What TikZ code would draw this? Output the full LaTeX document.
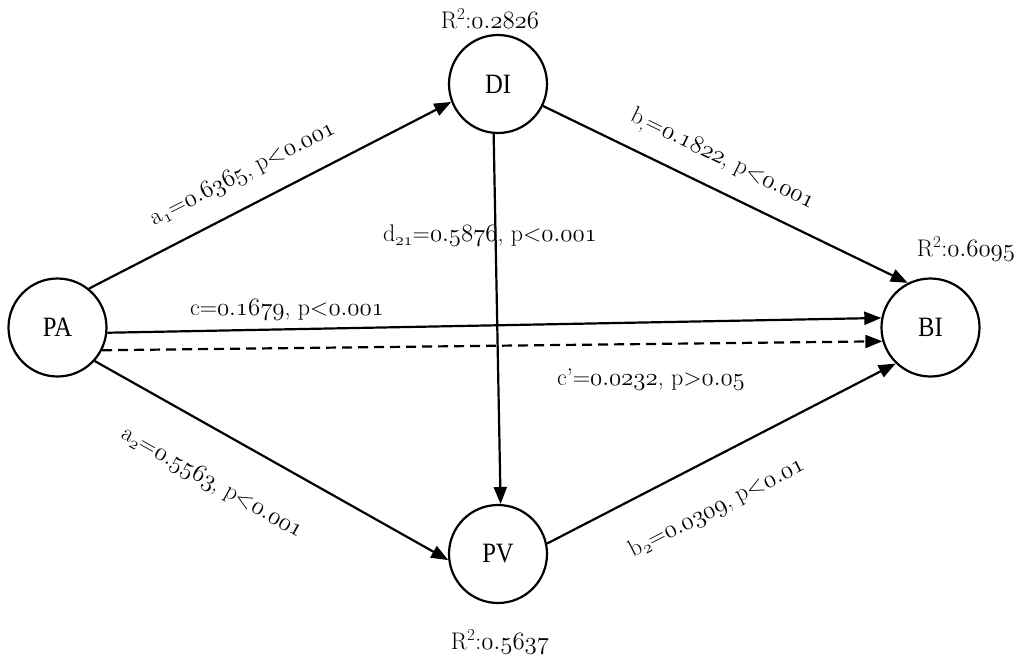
\documentclass[tikz,border=0pt]{standalone}
\usepackage{fontspec}
\newfontfamily\tnr{Liberation Serif}
\usetikzlibrary{arrows.meta}
\newcommand\osn[1]{\ensuremath{\mathnormal{#1}}}
\newcommand\vname[1]{\scalebox{0.88}[1]{#1}}
\begin{document}
\begin{tikzpicture}[x=1pt,y=-1pt,
  var/.style={circle,draw,line width=2.2pt,minimum size=98pt,inner sep=0pt,font=\tnr\fontsize{28}{32}\selectfont},
  lab/.style={font=\fontsize{24}{28}\selectfont,inner sep=0pt},
  conn/.style={line width=2.2pt,-{Triangle[length=17pt,width=13pt]}},
  dconn/.style={conn,dash pattern=on 10pt off 6pt}]
\useasboundingbox (0,0) rectangle (1034,662);
\node[var] (PA) at (57.5,327.5) {\vname{PA}};
\node[var] (DI) at (498,84) {\vname{DI}};
\node[var] (BI) at (930.5,327.5) {\vname{BI}};
\node[var] (PV) at (498,554) {\vname{PV}};
\node[lab] (rdi) at (490,19) {R\textsuperscript{2}:\osn{0.2826}};
\node[lab] (rbi) at (966,249) {R\textsuperscript{2}:\osn{0.6095}};
\node[lab] (rpv) at (500,642) {R\textsuperscript{2}:\osn{0.5637}};
\draw[conn] (PA.51) -- (DI.201);
\draw[conn] (DI.334) -- (BI.117);
\draw[conn] (DI.265) -- (PV.87);
\draw[conn] (PA.354) -- (BI.169);
\draw[dconn] (PA.333) -- (BI.196.6);
\draw[conn] (PA.318) -- (PV.187);
\draw[conn] (PV.12.4) -- (BI.226.5);
\node[lab,rotate=27] (la1) at (243,174) {a$_{\mathnormal{1}}$=\osn{0.6365}, p<\osn{0.001}};
\node[lab,rotate=-25.9] (lb1) at (722,160) {b$_{,}$=\osn{0.1822}, p<\osn{0.001}};
\node[lab] (ld) at (490,236) {d$_{\mathnormal{21}}$=\osn{0.5876}, p<\osn{0.001}};
\node[lab] (lc) at (287,310) {c=\osn{0.1679}, p<\osn{0.001}};
\node[lab] (lcp) at (651,380) {c’=\osn{0.0232}, p>\osn{0.05}};
\node[lab,rotate=-29.4] (la2) at (212,483) {a$_{\mathnormal{2}}$=\osn{0.5563}, p<\osn{0.001}};
\node[lab,rotate=27] (lb2) at (717,508) {b$_{\mathnormal{2}}$=\osn{0.0309}, p<\osn{0.01}};
\end{tikzpicture}
\end{document}
